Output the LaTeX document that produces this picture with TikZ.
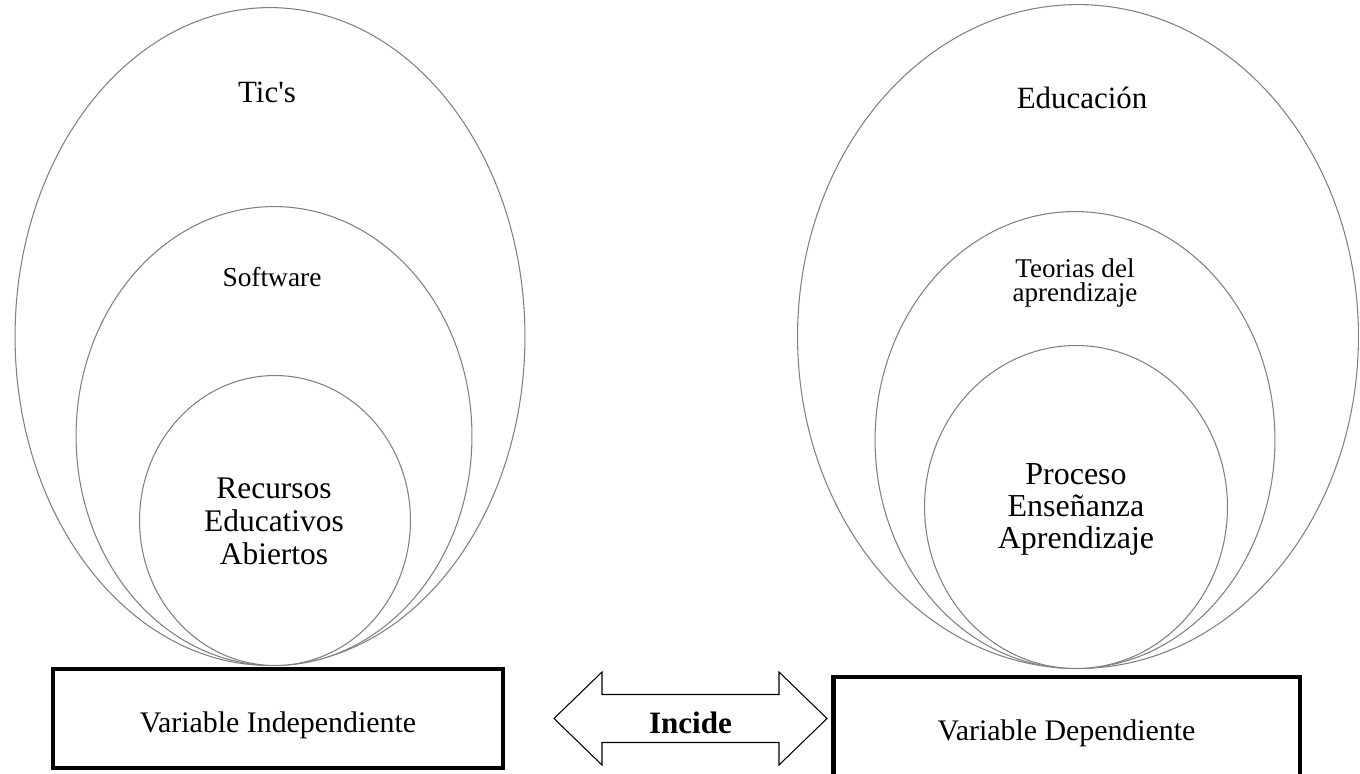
\documentclass[tikz,border=0pt]{standalone}
\usepackage{fontspec}
\setmainfont{Liberation Serif}
\usepackage{tikz}
\usetikzlibrary{shapes.geometric,positioning}
\tikzstyle{ring} = [ellipse, draw=black!50, line width=0.6pt, fill=white, inner sep=0pt, anchor=south]
\tikzstyle{lbl} = [align=center, inner sep=0pt]
\tikzstyle{varbox} = [rectangle, draw=black, line width=2.4pt, fill=white, inner sep=0pt, font=\fontsize{17}{20}\selectfont]
\tikzstyle{dblarrow} = [draw=black, line width=0.6pt, line join=miter]

\begin{document}
\begin{tikzpicture}[x=0.02cm, y=-0.02cm]
                    \useasboundingbox (0,0) rectangle (1360,774);
                    \clip (0,0) rectangle (1360,774);
                    \foreach \n/\x/\y/\w/\h in {tics/270/666/10.2/13.16, soft/274/666/7.92/9.18, rea/275/666/5.42/5.8, educ/1078/669/11.22/13.28, teor/1075/669/8.0/9.14, proc/1076/669/6.06/6.46}{
                        \node[ring, minimum width=\w cm, minimum height=\h cm] (\n) at (\x,\y) {};
                    }
                    \node[lbl, font=\fontsize{17.6}{20}\selectfont] (ticslbl) at (267,92) {Tic\textquotesingle s};
                    \node[lbl, font=\fontsize{15.6}{18}\selectfont] (softlbl) at (272,277) {Software};
                    \node[lbl, font=\fontsize{17.9}{18.8}\selectfont] (realbl) at (274,521) {Recursos\\Educativos\\Abiertos};
                    \node[lbl, font=\fontsize{17.6}{20}\selectfont] (educlbl) at (1082,98) {Educación};
                    \node[lbl, font=\fontsize{15.4}{14.2}\selectfont] (teorlbl) at (1075,283) {Teorias del\\aprendizaje};
                    \node[lbl, font=\fontsize{18.2}{18.2}\selectfont] (proclbl) at (1076,509) {Proceso\\Enseñanza\\Aprendizaje};
                    \node[varbox, minimum width=9cm, minimum height=1.98cm] (vind) at (278,718.5) {\raisebox{-0.14cm}[\height][\depth]{Variable Independiente}};
                    \node[varbox, line width=2.8pt, minimum width=9.34cm, minimum height=2.12cm] (vdep) at (1066.5,730) {\raisebox{-0.06cm}[\height][\depth]{Variable Dependiente}};
                    \coordinate (mid) at (690.5,718.5);
                    \draw[dblarrow] (mid) ++(-136.5,0) -- ++(48,-46.5) -- ++(0,22.5) -- ++(177,0) -- ++(0,-22.5) -- ++(48,46.5)
                        -- ++(-48,46.5) -- ++(0,-22.5) -- ++(-177,0) -- ++(0,22.5) -- cycle;
                    \node[lbl, font=\bfseries\fontsize{17.7}{20}\selectfont] (incide) at ([yshift=-0.09cm]mid) {Incide};
                \end{tikzpicture}
\end{document}
